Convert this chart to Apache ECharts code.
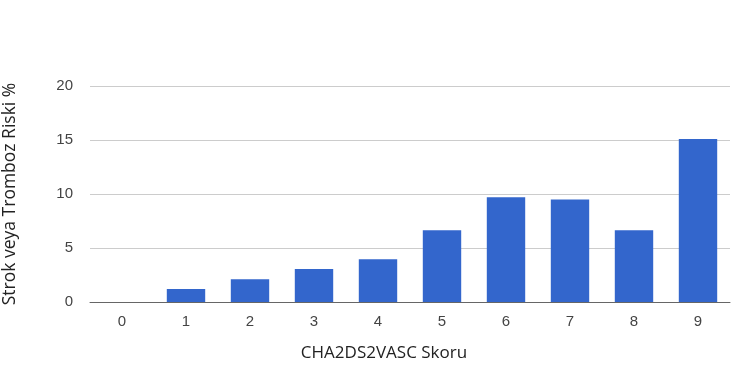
<!DOCTYPE html>
<html><head><meta charset="utf-8">
<script src="https://cdn.jsdelivr.net/npm/echarts@6/dist/echarts.min.js"></script>
<style>html,body{margin:0;padding:0;background:#fff}#c{width:750px;height:375px}</style>
</head><body><div id="c"></div>
<script>
const categories = ['0','1','2','3','4','5','6','7','8','9'];
const riskValues = [0, 1.2, 2.1, 3.05, 3.95, 6.65, 9.7, 9.5, 6.65, 15.1];
const yTicks = {min: 0, max: 20, interval: 5};
const chart = echarts.init(document.getElementById('c'));
chart.setOption({
  animation: false,
  backgroundColor: '#fff',
  grid: {left: 90, right: 20, top: 86, bottom: 73, containLabel: false, outerBoundsMode: 'none'},
  xAxis: {
    type: 'category', data: categories,
    name: 'CHA2DS2VASC Skoru', nameLocation: 'middle', nameGap: 43,
    nameTextStyle: {fontFamily: 'Open Sans', fontSize: 17, color: '#222', padding: [0, 52, 0, 0]},
    axisLine: {lineStyle: {color: '#666', width: 1}},
    axisTick: {show: false},
    axisLabel: {color: '#444', fontFamily: 'Arial, Liberation Sans', fontSize: 15, margin: 12}
  },
  yAxis: {
    type: 'value', min: yTicks.min, max: yTicks.max, interval: yTicks.interval,
    name: 'Strok veya Tromboz Riski %', nameLocation: 'middle', nameGap: 71,
    nameTextStyle: {fontFamily: 'Open Sans', fontSize: 17.5, color: '#222'},
    axisLine: {show: false}, axisTick: {show: false},
    splitLine: {lineStyle: {color: '#ccc', width: 1}},
    axisLabel: {color: '#444', fontFamily: 'Arial, Liberation Sans', fontSize: 15, margin: 17}
  },
  series: [{
    type: 'bar', data: riskValues, barWidth: '60%',
    itemStyle: {color: '#3366cc'}
  }]
});
</script></body></html>
